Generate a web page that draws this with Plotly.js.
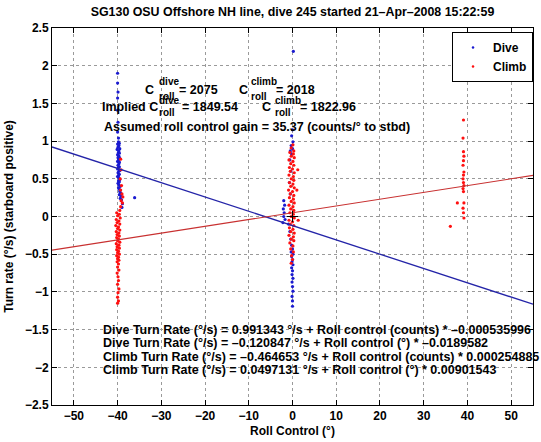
<!DOCTYPE html>
<html>
<head>
<meta charset="utf-8">
<script src="https://cdn.plot.ly/plotly-3.0.1.min.js"></script>
<style>html,body{margin:0;padding:0;background:#fff;}#chart{width:541px;height:442px;}</style>
</head>
<body>
<div id="chart"></div>
<script>
// ---- data (roll control in degrees, turn rate in deg/s) ----
const diveAtPort = [
  [-40,1.90],[-40,1.77],[-39.9,1.65],[-40,1.57],[-40,1.41],[-39.9,1.25],[-40,1.12],[-39.8,1.04],
  [-39.8,0.99],[-39.6,0.97],[-40,0.96],[-39.7,0.94],[-39.9,0.92],[-39.5,0.90],[-40.1,0.89],[-39.7,0.87],
  [-39.8,0.85],[-39.6,0.84],[-40,0.82],[-39.7,0.80],[-39.9,0.78],[-39.5,0.77],[-39.8,0.75],[-40,0.73],
  [-39.6,0.72],[-39.7,0.70],[-39.9,0.68],[-39.6,0.66],[-39.8,0.65],[-40,0.63],[-39.5,0.61],[-39.7,0.60],
  [-39.9,0.58],[-39.6,0.56],[-39.8,0.54],[-40,0.53],[-39.7,0.51],[-39.5,0.49],[-39.8,0.47],[-39.6,0.46],
  [-39.9,0.44],[-39.7,0.42],[-39.4,0.40],[-39.8,0.38],[-39.6,0.36],[-39.5,0.33],[-39.3,0.31],[-39.6,0.29],
  [-39.2,0.27],[-39.4,0.24],[-39.1,0.22],[-38.9,0.17],[-39.0,0.12],[-36.1,0.25]
];
const diveAtCenter = [
  [0.2,2.19],[0,1.15],[-0.2,1.07],[0.1,0.99],[-0.3,0.94],[0,0.90],[-0.5,0.87],[-0.2,0.83],
  [-0.6,0.75],[-0.4,0.60],[-0.7,0.45],[-0.5,0.30],[-2.0,0.21],[-1.8,0.15],[-2.1,0.10],[-1.9,0.05],
  [-2.0,0.00],[-1.7,-0.04],[-2.2,-0.08],[-0.9,-0.10],[-0.6,-0.20],[-0.4,-0.30],[-0.2,-0.38],[0,-0.43],
  [-0.3,-0.47],[0.1,-0.50],[-0.2,-0.53],[0,-0.57],[-0.1,-0.60],[0.1,-0.64],[-0.2,-0.68],[0,-0.72],
  [-0.1,-0.77],[0.1,-0.82],[-0.1,-0.87],[0,-0.93],[0.1,-0.99],[-0.1,-1.06],[0,-1.12],[0,-1.19]
];
const climbAtPort = [
  [-39.3,0.76],[-39.2,0.62],[-39.4,0.50],[-39.1,0.41],[-39.3,0.35],[-39.0,0.30],[-38.8,0.26],[-39.2,0.21],
  [-38.9,0.18],[-39.3,0.13],[-39.5,0.08],
  [-40.2,0.05],[-39.6,0.03],[-40.0,0.01],[-39.4,-0.02],[-40.3,-0.04],[-39.7,-0.06],[-40.1,-0.08],[-39.5,-0.10],
  [-40.4,-0.12],[-39.8,-0.14],[-40.0,-0.16],[-39.5,-0.18],[-40.3,-0.20],[-39.7,-0.22],[-40.1,-0.24],[-39.6,-0.26],
  [-40.2,-0.28],[-39.8,-0.30],[-40.0,-0.32],[-39.5,-0.34],[-40.3,-0.36],[-39.7,-0.38],[-40.1,-0.40],[-39.6,-0.42],
  [-40.2,-0.44],[-39.8,-0.46],[-40.0,-0.48],[-39.6,-0.50],[-40.2,-0.52],[-39.8,-0.54],[-40.0,-0.56],[-39.7,-0.58],
  [-40.1,-0.60],
  [-39.8,-0.63],[-40.0,-0.67],[-39.7,-0.71],[-40.1,-0.75],[-39.9,-0.80],[-39.8,-0.85],[-40.0,-0.90],[-39.7,-0.96],
  [-39.9,-1.01],[-40.0,-1.07],[-39.8,-1.12],[-40.0,-1.15]
];
const climbAtCenter = [
  [0.1,0.95],[-0.3,0.91],[0.3,0.87],
  [-0.6,0.85],[0.2,0.83],[-0.3,0.80],[0.4,0.78],[-0.8,0.75],[0.1,0.73],[-0.4,0.70],[0.3,0.68],
  [-0.7,0.65],[0.0,0.63],[-0.5,0.60],[0.4,0.58],[-0.8,0.55],[0.2,0.53],[-0.3,0.50],[0.3,0.48],
  [-0.7,0.45],[0.1,0.43],[-0.4,0.40],[0.4,0.38],[-0.9,0.35],[0.0,0.33],[-0.5,0.30],[0.3,0.28],
  [-0.7,0.25],[0.2,0.23],[-0.3,0.20],[0.4,0.18],[-0.8,0.15],[0.1,0.13],[-0.4,0.10],[0.3,0.08],
  [-0.6,0.05],[0.2,0.03],[-0.3,0.00],[0.4,-0.02],[-0.8,-0.05],[0.0,-0.07],[-0.5,-0.10],[0.3,-0.12],
  [-0.7,-0.15],[0.1,-0.17],[-0.4,-0.20],[0.4,-0.22],[-0.8,-0.25],[0.2,-0.27],[-0.3,-0.30],[0.3,-0.32],
  [-0.6,-0.35],
  [0.1,-0.39],[-0.4,-0.43],[0.2,-0.47],[-0.2,-0.52],[0.0,-0.57],[-0.3,-0.62],
  [1.2,0.62],[1.0,0.35],[1.3,-0.05]
];
const climbAtStbd = [
  [39.1,1.28],[39.0,1.04],[39.1,0.86],[39.2,0.80],[39.1,0.74],[39.0,0.68],[39.2,0.59],[39.1,0.55],
  [39.0,0.50],[39.1,0.45],[39.2,0.41],[39.0,0.37],[39.1,0.33],[37.7,0.18],[39.2,0.18],[39.0,0.11],
  [39.1,0.05],[39.2,-0.02],[36.1,-0.13]
];
const centerMark = [[0, 0]];

// fitted lines (from the annotation text): turn = intercept + slope * roll(deg)
const diveFit  = {intercept: -0.120847, slope: -0.0189582};
const climbFit = {intercept: 0.0497131, slope: 0.00901543};
const xRange = [-55, 55];
const yRange = [-2.5, 2.5];
const xTicks = [-50,-40,-30,-20,-10,0,10,20,30,40,50];
const yTicks = [-2.5,-2,-1.5,-1,-0.5,0,0.5,1,1.5,2,2.5];

const titleText = 'SG130 OSU Offshore NH line, dive 245 started 21\u2013Apr\u20132008 15:22:59';
const fitLines = [
  'Dive Turn Rate (\u00b0/s) = 0.991343 \u00b0/s + Roll control (counts) * \u20130.000535996',
  'Dive Turn Rate (\u00b0/s) = \u20130.120847 \u00b0/s + Roll control (\u00b0) * \u20130.0189582',
  'Climb Turn Rate (\u00b0/s) = \u20130.464653 \u00b0/s + Roll control (counts) * 0.000254885',
  'Climb Turn Rate (\u00b0/s) = 0.0497131 \u00b0/s + Roll control (\u00b0) * 0.00901543'
];

// ---- build ----
const dive = diveAtPort.concat(diveAtCenter);
const climb = climbAtPort.concat(climbAtCenter, climbAtStbd);
const BLUE = '#1a1ad0', RED = '#ff1010';
const FONT = 'Liberation Sans, Arial, Helvetica, sans-serif';

const traces = [
  {x: dive.map(p=>p[0]), y: dive.map(p=>p[1]), type:'scatter', mode:'markers', name:'Dive',
   marker:{color:BLUE, size:3.2}, showlegend:false},
  {x: climb.map(p=>p[0]), y: climb.map(p=>p[1]), type:'scatter', mode:'markers', name:'Climb',
   marker:{color:RED, size:3.2}, showlegend:false},
  {x: xRange, y: xRange.map(v=>diveFit.intercept + diveFit.slope*v), type:'scatter', mode:'lines',
   line:{color:'#2424a8', width:1.3}, showlegend:false, hoverinfo:'skip'},
  {x: xRange, y: xRange.map(v=>climbFit.intercept + climbFit.slope*v), type:'scatter', mode:'lines',
   line:{color:'#c83030', width:1.1}, showlegend:false, hoverinfo:'skip'},
  {x: centerMark.map(p=>p[0]), y: centerMark.map(p=>p[1]), type:'scatter', mode:'markers',
   marker:{symbol:'cross-thin', size:8, line:{color:'#000', width:1}}, showlegend:false, hoverinfo:'skip'},
  // legend entries (small dots, like the reference legend)
  {x:[null], y:[null], type:'scatter', mode:'markers', name:'Dive', marker:{color:BLUE, size:2.5}},
  {x:[null], y:[null], type:'scatter', mode:'markers', name:'Climb', marker:{color:RED, size:2.5}}
];

// layout helpers (pixel -> paper)
const M = {l:52, r:8, t:28, b:37};
const W = 541, H = 442;
const PW = W - M.l - M.r, PH = H - M.t - M.b;
const px = v => (v - M.l) / PW;
const py = v => (H - M.b - v) / PH;

function ann(text, x, y, size) {
  return {text: '<b>' + text + '</b>', xref:'paper', yref:'paper', x: px(x), y: py(y),
    xanchor:'left', yanchor:'middle', showarrow:false, font:{family:FONT, size:size||12.5, color:'#000'}};
}
const annotations = [
  ann('C', 143, 90), ann('dive', 157, 81, 10), ann('roll', 157, 96, 10), ann('= 2075', 177, 90),
  ann('C', 237, 90), ann('climb', 249, 81, 10), ann('roll', 249, 96, 10), ann('= 2018', 274, 90),
  ann('Implied C', 100, 107), ann('dive', 157, 101, 10), ann('roll', 157, 113, 10), ann('= 1849.54', 180, 107),
  ann('C', 260, 107), ann('climb', 273, 101, 10), ann('roll', 273, 113, 10), ann('= 1822.96', 298, 107),
  ann('Assumed roll control gain = 35.37 (counts/\u00b0 to stbd)', 102, 127),
  ann(fitLines[0], 101, 330), ann(fitLines[1], 101, 343), ann(fitLines[2], 101, 357), ann(fitLines[3], 101, 370)
];

const axisCommon = {
  showline:true, linecolor:'#000', linewidth:1, mirror:'ticks', ticks:'inside', ticklen:5, tickcolor:'#000',
  showgrid:true, gridcolor:'#9a9a9a', griddash:'dot', gridwidth:1, zeroline:false,
  tickfont:{family:FONT, size:12, color:'#000', weight:'bold'}
};
const layout = {
  width:W, height:H, margin:M, paper_bgcolor:'#fff', plot_bgcolor:'#fff',
  font:{family:FONT, size:12, color:'#000', weight:'bold'},
  title:{text:'<b>'+titleText+'</b>', font:{family:FONT, size:12.4, color:'#000'},
    xref:'paper', x:0.5, xanchor:'center', yref:'container', y:1-12/H, yanchor:'middle'},
  xaxis:Object.assign({}, axisCommon, {range:xRange, tickvals:xTicks, autorange:false,
    title:{text:'<b>Roll Control (\u00b0)</b>', font:{family:FONT, size:12, color:'#000'}, standoff:4}}),
  yaxis:Object.assign({}, axisCommon, {range:yRange, tickvals:yTicks, autorange:false,
    title:{text:'<b>Turn rate (\u00b0/s) (starboard positive)</b>', font:{family:FONT, size:12, color:'#000'}, standoff:8}}),
  showlegend:true,
  legend:{x:1, xanchor:'right', y:py(32), yanchor:'top', bgcolor:'#fff', bordercolor:'#000', borderwidth:1,
    font:{family:FONT, size:12, color:'#000', weight:'bold'}, tracegroupgap:0, itemsizing:'trace'},
  annotations:annotations
};
Plotly.newPlot('chart', traces, layout, {displayModeBar:false, staticPlot:true});
</script>
</body>
</html>
